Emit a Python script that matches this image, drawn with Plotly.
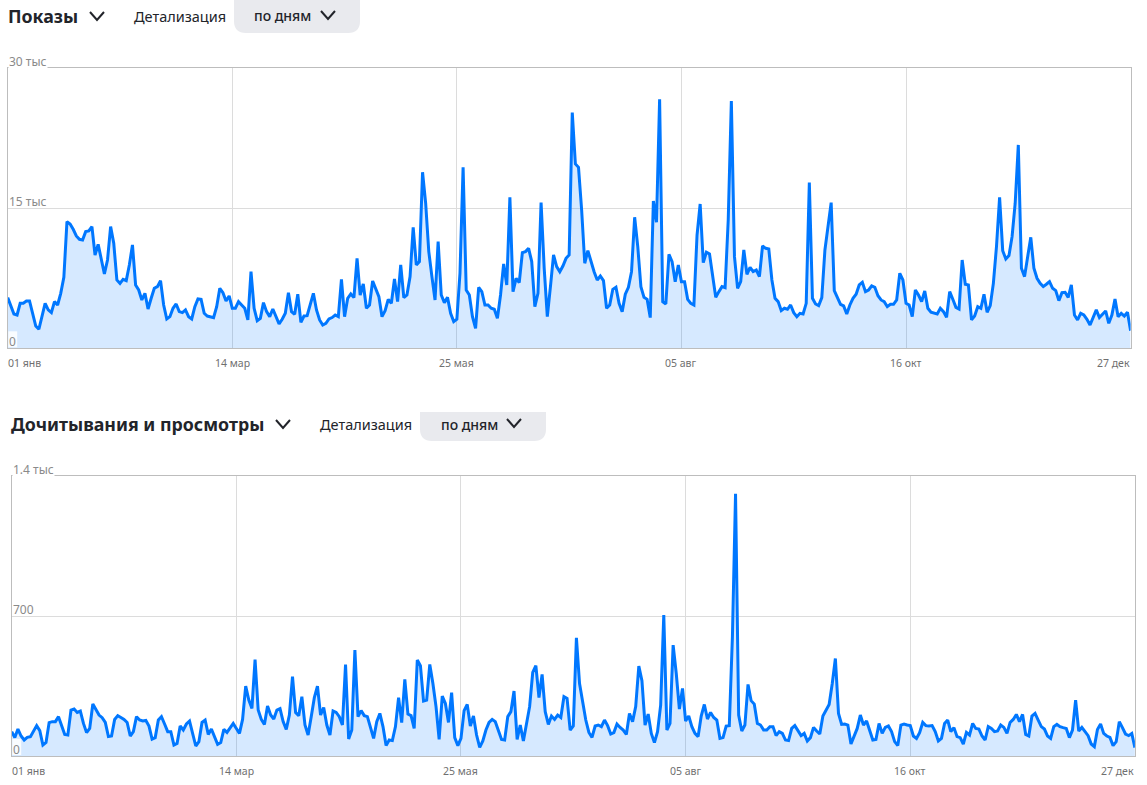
import pandas as pd
import plotly.graph_objects as go

W=1147
H=785

# показы, тысячи в день
shows=[5.43,4.64,3.68,3.57,4.82,4.82,5.07,5.07,3.57,2.39,2.04,3.57,4.82,4.11,3.82,5.00,4.64,5.89,7.61,13.57,
       13.32,12.75,12.04,11.68,11.61,12.50,12.57,13.04,10.00,11.14,9.64,7.96,9.46,13.04,11.25,7.32,6.96,7.39,7.25,8.93,
       11.07,6.79,6.25,5.18,5.89,4.21,5.36,6.43,6.61,7.25,4.64,3.14,3.39,4.29,4.75,3.93,3.82,4.11,3.39,3.14,
       4.46,5.29,5.25,3.75,3.46,3.39,3.29,4.46,6.43,5.96,5.07,5.61,4.29,4.29,5.00,4.64,4.29,3.04,8.21,4.29,
       2.96,3.21,4.89,3.93,3.39,4.21,3.46,2.61,3.11,3.75,5.96,3.93,3.64,5.79,2.79,3.46,3.50,4.75,5.89,4.11,
       3.04,2.50,2.68,3.14,3.29,3.57,3.39,7.39,3.39,5.36,5.82,5.43,9.64,5.71,6.89,4.29,4.64,7.21,6.43,5.54,
       3.39,4.04,5.25,4.82,7.43,5.00,8.93,5.43,5.71,7.68,12.96,8.93,9.29,18.86,15.54,10.36,7.68,5.18,11.43,5.71,
       4.89,5.46,3.75,2.86,3.11,8.04,19.39,6.25,5.71,3.39,2.14,6.54,6.07,4.64,4.64,4.29,4.18,3.21,5.71,9.04,
       6.79,16.18,6.07,7.50,7.04,10.25,10.36,10.71,9.29,4.46,5.89,15.61,8.57,3.39,6.61,10.00,8.75,8.21,8.82,9.64,
       10.00,25.25,19.75,19.39,14.82,9.11,10.46,9.29,8.21,7.32,7.75,7.25,4.29,4.64,6.32,6.54,4.82,3.93,5.79,6.54,
       8.21,14.04,10.89,6.61,5.46,5.25,3.29,15.79,13.50,26.68,5.00,4.75,10.07,9.29,7.14,8.93,7.14,7.14,5.25,4.82,
       4.64,12.14,15.46,9.18,10.29,10.11,7.68,5.46,6.07,6.61,6.50,13.75,26.50,9.82,6.43,7.14,10.54,7.93,8.68,8.21,
       8.39,7.68,10.96,10.71,10.64,7.32,5.36,5.00,4.04,4.29,4.18,4.64,3.82,3.39,3.75,3.68,4.82,17.75,5.36,4.75,
       4.57,5.43,10.54,13.39,15.61,6.18,5.36,4.71,4.54,3.68,4.64,5.36,5.79,6.79,7.07,6.07,6.25,6.68,6.54,5.64,
       5.18,5.00,4.46,4.71,4.71,5.18,8.04,7.32,4.82,4.64,3.39,6.25,5.71,5.00,6.14,4.29,3.86,3.75,3.68,4.29,
       3.93,3.32,6.07,5.25,4.39,4.21,9.46,6.86,6.79,3.04,3.46,4.46,4.29,5.79,3.86,4.57,6.96,10.89,16.18,10.46,
       9.57,9.93,11.96,15.54,21.79,8.57,7.68,9.82,11.89,8.57,7.50,6.96,6.61,6.86,7.14,6.43,6.18,5.11,5.96,6.00,
       5.46,6.79,3.57,3.04,3.75,3.57,3.11,2.50,3.32,4.11,3.29,3.68,4.00,2.68,3.57,5.29,3.39,3.75,3.46,3.86,1.89]

# дочитывания и просмотры в день
reads=[122,93,135,100,80,93,97,125,152,127,55,68,167,172,172,197,155,108,105,230,
       235,218,225,163,117,138,260,230,205,192,168,97,100,183,202,193,183,168,100,122,
       197,180,175,178,150,85,92,180,197,160,122,122,55,63,150,130,160,175,118,50,
       72,168,180,108,135,97,58,67,133,118,142,163,138,113,183,350,280,238,483,230,
       183,158,250,205,185,230,237,172,133,205,397,217,202,297,155,105,197,292,350,205,
       243,155,105,225,218,197,155,458,85,130,530,197,227,202,197,138,88,172,213,147,
       52,80,77,147,292,167,383,210,202,138,480,452,275,280,458,363,247,83,300,263,
       168,317,92,52,88,227,258,150,200,105,43,75,130,168,183,172,130,83,80,197,
       222,325,83,155,75,160,247,418,452,292,408,222,158,200,183,205,193,297,288,130,
       150,592,363,272,180,118,93,150,155,147,180,152,110,117,160,143,130,108,213,172,
       247,450,377,155,210,113,67,122,255,705,130,163,555,413,235,338,175,200,147,113,
       97,200,258,185,218,193,180,88,92,150,152,597,1313,205,125,155,358,277,260,163,
       155,130,130,147,147,102,122,113,80,77,138,152,130,102,113,75,92,143,125,110,
       200,227,258,363,488,213,158,160,155,60,97,138,205,155,175,122,80,83,163,113,
       143,150,122,72,52,155,160,155,152,100,88,117,168,152,150,152,122,75,88,163,
       180,122,142,97,92,60,118,105,163,138,135,100,80,147,138,122,125,155,143,113,
       168,183,208,172,208,108,100,200,213,180,147,135,100,88,147,158,147,142,138,92,
       130,280,125,143,122,102,60,47,133,160,113,100,93,52,72,172,142,110,102,113,42]

tick_dates=['2023-01-01','2023-03-14','2023-05-25','2023-08-05','2023-10-16','2023-12-27']
tick_labels=['01 янв','14 мар','25 мая','05 авг','16 окт','27 дек']

shows_yticks=[0,15,30]
shows_ylabels=['0','15 тыс','30 тыс']
reads_yticks=[0,700,1400]
reads_ylabels=['0','700','1.4 тыс']

titles=['Показы','Дочитывания и просмотры']

FONT='Noto Sans'
BLUE='#0077ff'
FILL='rgba(0,119,255,0.16)'
GRID='#dcdcdc'
AXIS='#bdbdbd'
LABEL='#8a8a8a'
DARK='#22242a'


def px(x):
    return x/W


def py(y):
    return 1-y/H


def chevron(x0,x1,y0,y1,color=DARK):
    xm=(x0+x1)/2
    return dict(type='path',xref='paper',yref='paper',
                path=f'M {px(x0)} {py(y0)} L {px(xm)} {py(y1)} L {px(x1)} {py(y0)}',
                line={'color':color,'width':2})


def pill(x0,x1,y0,y1,r,flat_top=False):
    top=f'M {px(x0)} {py(y0)} L {px(x1)} {py(y0)}' if flat_top else (
        f'M {px(x0)} {py(y0+r)} Q {px(x0)} {py(y0)} {px(x0+r)} {py(y0)} L {px(x1-r)} {py(y0)} Q {px(x1)} {py(y0)} {px(x1)} {py(y0+r)}')
    return dict(type='path',xref='paper',yref='paper',layer='below',
                path=top+f' L {px(x1)} {py(y1-r)} Q {px(x1)} {py(y1)} {px(x1-r)} {py(y1)} L {px(x0+r)} {py(y1)} Q {px(x0)} {py(y1)} {px(x0)} {py(y1-r)} Z',
                fillcolor='#e9eaee',line={'width':0})


def text(x,y,s,size,color=DARK,weight=400,anchor='left'):
    return dict(xref='paper',yref='paper',x=px(x),y=py(y),text=s,showarrow=False,
                xanchor=anchor,yanchor='middle',font={'family':FONT,'size':size,'color':color,'weight':weight},borderpad=0,borderwidth=0)


fig=go.Figure()
days=pd.date_range('2023-01-01',periods=len(shows),freq='D')
panels=[{'y':shows,'ax':'','x0':7.7,'x1':1130.6,'top':68.3,'bottom':348.3,'rng':[0,30],'yt':shows_yticks,'yl':shows_ylabels},
        {'y':reads,'ax':'2','x0':11.7,'x1':1134.9,'top':476.3,'bottom':756,'rng':[0,1400],'yt':reads_yticks,'yl':reads_ylabels}]
annotations=[]
zero_boxes=[]
for p in panels:
    fig.add_trace(go.Scatter(x=days,y=p['y'],mode='lines',fill='tozeroy',fillcolor=FILL,
                             line={'color':BLUE,'width':3,'shape':'linear'},
                             xaxis='x'+p['ax'],yaxis='y'+p['ax'],showlegend=False,hoverinfo='skip'))
    fig.update_layout({
        'xaxis'+p['ax']:{'domain':[px(p['x0']),px(p['x1'])],'anchor':'y'+p['ax'],'type':'date',
                         'range':[days[0],days[-1]],'tickvals':tick_dates,'showticklabels':False,
                         'showgrid':True,'gridcolor':GRID,'gridwidth':1,'zeroline':False,
                         'showline':True,'linecolor':AXIS,'linewidth':1,'mirror':True,'ticks':''},
        'yaxis'+p['ax']:{'domain':[py(p['bottom']),py(p['top'])],'anchor':'x'+p['ax'],
                         'range':p['rng'],'tickvals':p['yt'],'showticklabels':False,
                         'showgrid':True,'gridcolor':GRID,'gridwidth':1,'zeroline':False,
                         'showline':True,'linecolor':AXIS,'linewidth':1,'mirror':True,'ticks':''}})
    # подписи дат снизу, крайние прижаты к краям
    for i,(d,l) in enumerate(zip(tick_dates,tick_labels)):
        anchor='left' if i==0 else 'right' if i==len(tick_dates)-1 else 'center'
        shift=-2 if i==0 else 1 if i==len(tick_dates)-1 else 0
        annotations.append(dict(xref='x'+p['ax'],yref='paper',x=d,y=py(p['bottom']+14.5),text=l,showarrow=False,
                                xanchor=anchor,yanchor='middle',xshift=shift,
                                font={'family':FONT,'size':10.5,'color':'#6f6f6f'}))
    # подписи значений внутри области графика, над линиями
    for v,l in zip(p['yt'],p['yl']):
        annotations.append(dict(xref='paper',yref='y'+p['ax'],x=px(p['x0']),y=v,text=l,showarrow=False,
                                xanchor='left',yanchor='bottom',yshift=-3,
                                bgcolor='white' if v==p['yt'][2] else None,
                                font={'family':FONT,'size':12,'color':LABEL},borderpad=0))
    # подложка под нулём, над заливкой, но не поверх оси
    zero_boxes.append(dict(type='rect',xref='paper',yref='paper',layer='above',
                           x0=px(p['x0']+0.6),x1=px(p['x0']+9.5),y0=py(p['bottom']-1),y1=py(p['bottom']-17),
                           fillcolor='white',opacity=0.85,line={'width':0}))

annotations+=[text(8,16,titles[0],17.8,weight=700),
              text(134,16,'Детализация',14.5),
              text(254,16,'по дням',14,weight=500),
              text(11,424,titles[1],17.8,weight=700),
              text(320,424,'Детализация',14.5),
              text(441,424,'по дням',14,weight=500)]

shapes=[pill(234,360,-12,33,12),pill(420,546,412,441,12,flat_top=True),
        chevron(90,104,12,20),chevron(321,335,11,19),
        chevron(276,290,420,428),chevron(507,521,419,427)]+zero_boxes

fig.update_layout(width=W,height=H,margin={'l':0,'r':0,'t':0,'b':0},autosize=False,
                  paper_bgcolor='white',plot_bgcolor='white',annotations=annotations,shapes=shapes,
                  font={'family':FONT})
fig.write_html("out.html",config={'displayModeBar':False},post_script="document.body.style.margin='0';")
